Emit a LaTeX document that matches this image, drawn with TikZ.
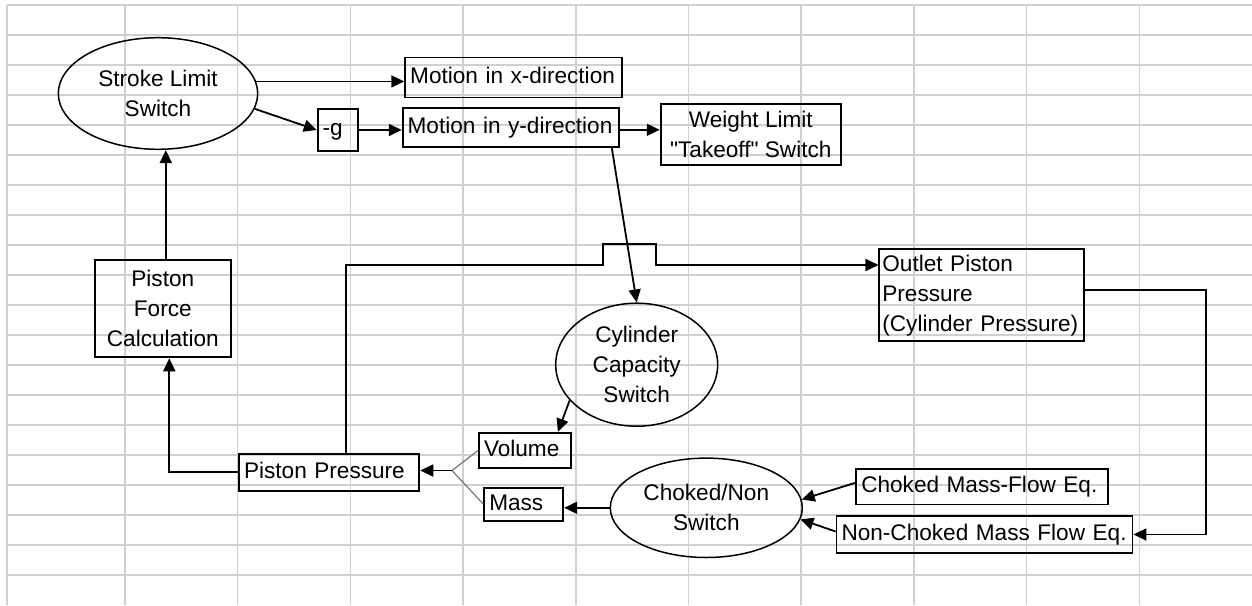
\documentclass[tikz,border=0pt]{standalone}
\usepackage{fontspec}
\setmainfont{Liberation Sans}[Ligatures=TeXOff]
\usepackage{tikz}
\usetikzlibrary{arrows.meta}
\usetikzlibrary{shapes.geometric}
\definecolor{gridgray}{RGB}{208,208,208}
\definecolor{forkgray}{RGB}{110,110,110}
\tikzset{
    >={Triangle[length=13pt, width=12pt]},
    switchnode/.style={shape=ellipse, draw, line width=1.5pt, align=center, inner sep=0pt},
    blockbox/.style={shape=rectangle, draw, line width=1.8pt, inner xsep=5pt, inner ysep=0pt, align=left},
    linebox/.style={blockbox, text height=16.5pt, text depth=4.7pt},
    calcbox/.style={shape=rectangle, draw, line width=1.8pt, inner sep=0pt, align=center},
    link/.style={line width=1.8pt},
    forkline/.style={line width=1.1pt, draw=forkgray},
    gridline/.style={line width=1.5pt, draw=gridgray}}

\begin{document}
\begin{tikzpicture}[x=1pt, y=-1pt, font=\fontsize{22.6pt}{30pt}\selectfont]

    \fill[white] (0,0) rectangle (1252,605);
    \useasboundingbox (0,0) rectangle (1252,605);

    \foreach \gx in {7,125,237.7,350.4,463.1,575.8,688.5,801.2,913.9,1026.6,1139.3}
        \draw[gridline] (\gx,5) -- (\gx,605);
    \foreach \gy in {0,...,19}
        \draw[gridline] (7,{5+30*\gy}) -- (1252,{5+30*\gy});

    \node[switchnode, minimum width=199.4pt, minimum height=111.6pt] (sls) at (158,93.5) {Stroke Limit\\Switch};
    \node[linebox, text width=207pt, minimum height=40pt] (mx) at (513.7,77.5) {Motion in x-direction};
    \node[linebox, text width=206.3pt, minimum height=39pt] (my) at (510.8,127.8) {Motion in y-direction};
    \node[linebox, text width=30.6pt, minimum height=41.4pt] (g) at (338,130) {-g};
    \node[calcbox, minimum width=180.3pt, minimum height=60.7pt] (wl) at (750.8,134.7) {Weight Limit\\"Takeoff" Switch};
    \node[blockbox, inner xsep=3pt, text width=198.7pt, minimum height=91.7pt] (op) at (981.7,295.2) {Outlet Piston\\Pressure\\(Cylinder Pressure)};
    \node[calcbox, minimum width=135.7pt, minimum height=97.3pt] (pfc) at (162.8,308.7) {Piston\\Force\\Calculation};
    \node[switchnode, minimum width=162pt, minimum height=123pt] (cyl) at (636.7,364.7) {Cylinder\\Capacity\\Switch};
    \node[linebox, text width=170.3pt, minimum height=36.7pt] (pp) at (329.2,472.3) {Piston Pressure};
    \node[linebox, text width=82pt, minimum height=35.6pt] (vol) at (525,450.5) {Volume};
    \node[linebox, text width=69pt, minimum height=33pt] (mass) at (523.8,504.2) {Mass};
    \node[switchnode, minimum width=192pt, minimum height=99.4pt] (cns) at (706.3,507.8) {Choked/Non\\Switch};
    \node[linebox, text width=241.5pt, minimum height=35.3pt] (cmf) at (982,486.8) {Choked Mass-Flow Eq.};
    \node[linebox, text width=286pt, minimum height=37.7pt] (ncmf) at (984.5,534.5) {Non-Choked Mass Flow Eq.};

    \coordinate (jogl) at (603,265);
    \coordinate (jogr) at (655.7,265);
    \coordinate (fork) at (452,470.5);

    \draw[link, ->] (sls.7) -- (sls.7 -| mx.west);
    \draw[link, ->] (sls.-9) -- (g.west);
    \draw[link, ->] (g.east) -- (g.east -| my.west);
    \draw[link, ->] ([yshift=-2pt]my.east) -- ([yshift=-2pt]my.east -| wl.west);
    \draw[link, ->] ([xshift=-8pt]my.south east) -- (cyl.north);
    \draw[link, ->] ([xshift=3pt]pfc.north) -- ([xshift=3pt]pfc.north |- sls.south);
    \draw[link, ->] (pp.west) -| ([xshift=6.5pt]pfc.south);
    \draw[link, ->] ([xshift=16.5pt]pp.north) |- (jogl) -- ++(0,-21) -| (jogr) -- (jogr -| op.west);
    \draw[link, ->] ([yshift=5pt]op.east) -- ++(121,0) |- (ncmf.east);
    \draw[link, ->] (cyl.208) -- ([xshift=-14pt]vol.north east);
    \draw[forkline] (vol.west) -- (fork);
    \draw[forkline] (mass.west) -- (fork);
    \draw[link, ->] (fork) -- (fork -| pp.east);
    \draw[link, ->] (cns.west) -- (cns.west -| mass.east);
    \draw[link, ->] ([yshift=4pt]cmf.west) -- (cns.5);
    \draw[link, ->] ([yshift=3pt]ncmf.west) -- (cns.-7);

\end{tikzpicture}
\end{document}
